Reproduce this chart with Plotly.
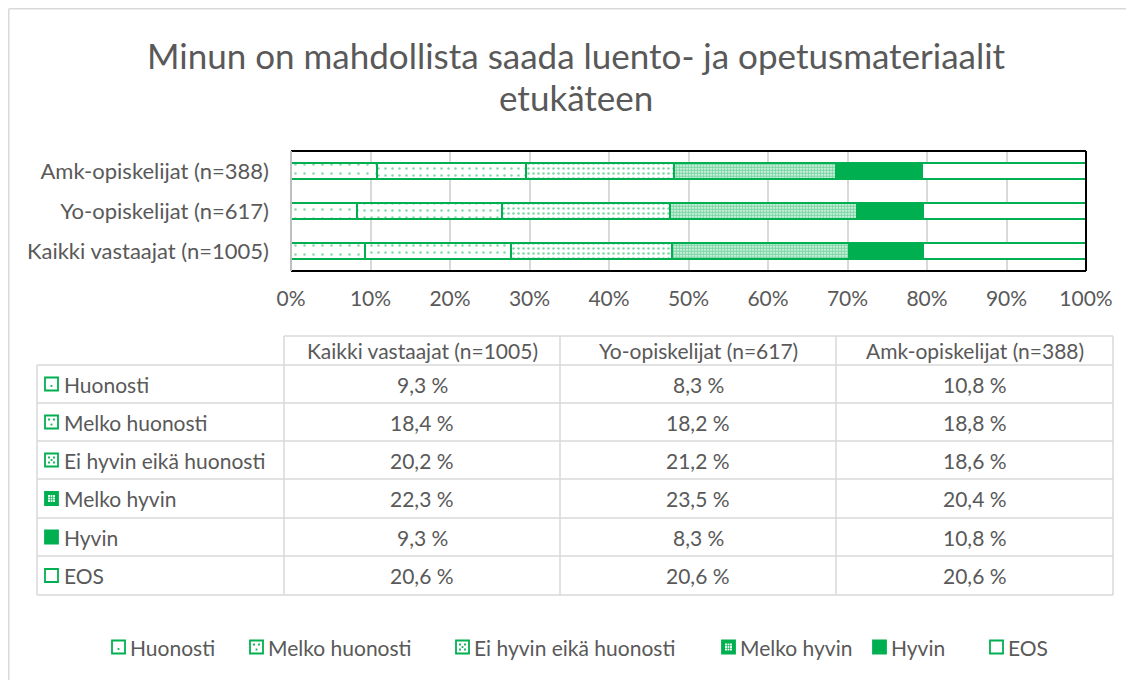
import plotly.graph_objects as go

# ---------------- data ----------------
groups = ["Kaikki vastaajat (n=1005)", "Yo-opiskelijat (n=617)", "Amk-opiskelijat (n=388)"]
categories = ["Huonosti", "Melko huonosti", "Ei hyvin eikä huonosti", "Melko hyvin", "Hyvin", "EOS"]
huonosti = [9.3, 8.3, 10.8]
melko_huonosti = [18.4, 18.2, 18.8]
ei_hyvin = [20.2, 21.2, 18.6]
melko_hyvin = [22.3, 23.5, 20.4]
hyvin = [9.3, 8.3, 10.8]
eos = [20.6, 20.6, 20.6]
series = [huonosti, melko_huonosti, ei_hyvin, melko_hyvin, hyvin, eos]
x_ticks = [0, 10, 20, 30, 40, 50, 60, 70, 80, 90, 100]
title_lines = ["Minun on mahdollista saada luento- ja opetusmateriaalit", "etukäteen"]

# ---------------- style ----------------
# page body has an 8px margin, so the figure is drawn 8px in from the window edges
OX, OY = 8, 8
W, H = 1134 - OX, 680 - OY
GREEN = "#00B050"
TXT = "#595959"
GRID = "#D9D9D9"
FONT = "Lato"

def X(px):
    return (px - OX) / W

def Y(py):
    return 1 - (py - OY) / H

patterns = [
    dict(shape=".", fgcolor=GREEN, bgcolor="white", size=9, solidity=0.06),
    dict(shape=".", fgcolor=GREEN, bgcolor="white", size=7, solidity=0.1),
    dict(shape=".", fgcolor=GREEN, bgcolor="white", size=5, solidity=0.2),
    dict(shape=".", fgcolor=GREEN, bgcolor="white", size=3, solidity=0.78),
    None,
    None,
]
fills = ["white", "white", "white", "white", GREEN, "white"]

fig = go.Figure()
for name, vals, pat, fc in zip(categories, series, patterns, fills):
    marker = dict(color=fc, line=dict(color=GREEN, width=2))
    if pat is not None:
        marker["pattern"] = pat
    fig.add_trace(go.Bar(
        y=groups, x=vals, name=name, orientation="h",
        marker=marker, showlegend=False, hoverinfo="x+name",
    ))

shapes = []
annotations = []

# outer chart border (left and top edges visible)
shapes.append(dict(type="line", xref="paper", yref="paper", x0=X(8.8), x1=X(8.8), y0=Y(8.8), y1=Y(700),
                   line=dict(color=GRID, width=1.5), layer="below"))
shapes.append(dict(type="line", xref="paper", yref="paper", x0=X(8.8), x1=X(1140), y0=Y(8.8), y1=Y(8.8),
                   line=dict(color=GRID, width=1.5), layer="below"))

# plot area box
PL, PR, PT, PB = 291, 1086, 151, 271
for (x0, y0, x1, y1, c) in [(PL, PT, PR, PT, "black"), (PL, PB, PR, PB, "black"),
                            (PR, PT, PR, PB, "black"), (PL, PT, PL, PB, "#BFBFBF")]:
    shapes.append(dict(type="line", xref="paper", yref="paper",
                       x0=X(x0), x1=X(x1), y0=Y(y0), y1=Y(y1),
                       line=dict(color=c, width=2)))

# title
for i, t in enumerate(title_lines):
    annotations.append(dict(text=t, xref="paper", yref="paper", x=X(576), y=Y(55 + 42 * i),
                            xanchor="center", yanchor="middle", showarrow=False,
                            font=dict(family=FONT, size=35, color=TXT)))

# ---------------- legend keys ----------------
dot_sets = {
    0: [(6.5, 8.5)],
    1: [(4, 4), (9, 4), (6.5, 9)],
    2: [(4, 4), (9, 4), (6.5, 6.5), (4, 9), (9, 9)],
    3: [(a, b) for a in (4, 6.5, 9) for b in (4, 6.5, 9)],
}

def key(x0, yc, k):
    s = 13
    y0 = yc - s / 2
    fill = GREEN if k in (3, 4) else "white"
    shapes.append(dict(type="rect", xref="paper", yref="paper",
                       x0=X(x0), x1=X(x0 + s), y0=Y(y0 + s), y1=Y(y0),
                       line=dict(color=GREEN, width=1.8), fillcolor=fill))
    if k in dot_sets:
        dc = "white" if k == 3 else GREEN
        for (dx, dy) in dot_sets[k]:
            shapes.append(dict(type="rect", xref="paper", yref="paper",
                               x0=X(x0 + dx - 0.9), x1=X(x0 + dx + 0.9),
                               y0=Y(y0 + dy + 0.9), y1=Y(y0 + dy - 0.9),
                               line=dict(width=0), fillcolor=dc))

# ---------------- data table ----------------
col_x = [37, 284, 560, 836, 1113]
row_y = [336, 365, 403, 441, 479, 518, 556, 595]
TW = 1.5
shapes.append(dict(type="line", xref="paper", yref="paper", x0=X(col_x[1]), x1=X(col_x[-1]),
                   y0=Y(row_y[0]), y1=Y(row_y[0]), line=dict(color=GRID, width=TW)))
for ry in row_y[1:]:
    shapes.append(dict(type="line", xref="paper", yref="paper", x0=X(col_x[0]), x1=X(col_x[-1]),
                       y0=Y(ry), y1=Y(ry), line=dict(color=GRID, width=TW)))
shapes.append(dict(type="line", xref="paper", yref="paper", x0=X(col_x[0]), x1=X(col_x[0]),
                   y0=Y(row_y[1]), y1=Y(row_y[-1]), line=dict(color=GRID, width=TW)))
for cx in col_x[1:]:
    shapes.append(dict(type="line", xref="paper", yref="paper", x0=X(cx), x1=X(cx),
                       y0=Y(row_y[0]), y1=Y(row_y[-1]), line=dict(color=GRID, width=TW)))

TF = 21
# header
for j, g in enumerate(groups):
    annotations.append(dict(text=g, xref="paper", yref="paper",
                            x=X((col_x[j + 1] + col_x[j + 2]) / 2), y=Y((row_y[0] + row_y[1]) / 2),
                            xanchor="center", yanchor="middle", showarrow=False,
                            font=dict(family=FONT, size=TF, color=TXT)))
# rows
for i, (cat, vals) in enumerate(zip(categories, series)):
    yc = (row_y[i + 1] + row_y[i + 2]) / 2
    key(45, yc, i)
    annotations.append(dict(text=cat, xref="paper", yref="paper", x=X(62), y=Y(yc),
                            xanchor="left", yanchor="middle", showarrow=False,
                            font=dict(family=FONT, size=TF, color=TXT)))
    for j, v in enumerate(vals):
        annotations.append(dict(text=f"{v:.1f}".replace(".", ",") + " %", xref="paper", yref="paper",
                                x=X((col_x[j + 1] + col_x[j + 2]) / 2), y=Y(yc),
                                xanchor="center", yanchor="middle", showarrow=False,
                                font=dict(family=FONT, size=TF, color=TXT)))

# ---------------- bottom legend ----------------
leg_x = [112, 250, 456, 722, 873, 990]
LY = 647
for i, (cat, lx) in enumerate(zip(categories, leg_x)):
    key(lx, LY, i)
    annotations.append(dict(text=cat, xref="paper", yref="paper", x=X(lx + 16), y=Y(LY),
                            xanchor="left", yanchor="middle", showarrow=False,
                            font=dict(family=FONT, size=TF, color=TXT)))

fig.update_layout(
    width=W, height=H, autosize=False,
    margin=dict(l=0, r=0, t=0, b=0, pad=0),
    paper_bgcolor="white", plot_bgcolor="white",
    barmode="stack", bargap=0.6,
    font=dict(family=FONT, color=TXT),
    xaxis=dict(domain=[X(PL), X(PR)], range=[0, 100], tickvals=x_ticks,
               ticktext=[f"{t}%" for t in x_ticks], showgrid=True, gridcolor=GRID, gridwidth=1.5,
               zeroline=False, showline=False, ticks="", ticklabelstandoff=13, automargin=False,
               tickfont=dict(family=FONT, size=TF, color=TXT), fixedrange=True),
    yaxis=dict(domain=[Y(PB), Y(PT)], categoryorder="array", categoryarray=groups,
               showgrid=False, zeroline=False, showline=False, ticks="", ticklabelstandoff=21,
               automargin=False,
               tickfont=dict(family=FONT, size=22, color=TXT), fixedrange=True),
    shapes=shapes, annotations=annotations,
)

fig.write_html("out.html", config={"displayModeBar": False})
